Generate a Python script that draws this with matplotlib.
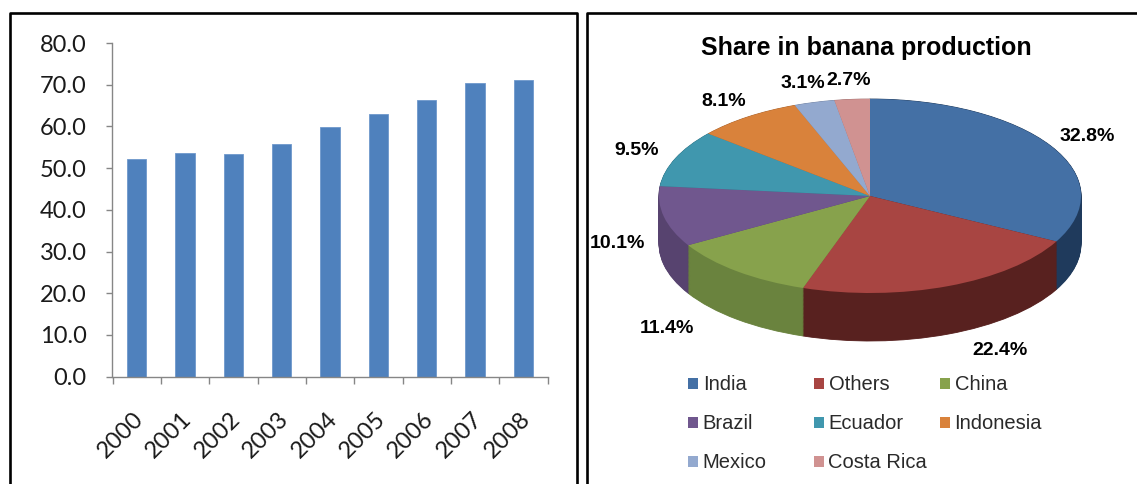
import numpy as np
import matplotlib
matplotlib.use('Agg')
import matplotlib.pyplot as plt
from matplotlib.lines import Line2D
from matplotlib.transforms import ScaledTranslation

# banana production (left) and share by country (right)
years = ['2000', '2001', '2002', '2003', '2004', '2005', '2006', '2007', '2008']
production = [52.1, 53.7, 53.3, 55.9, 59.9, 63.0, 66.4, 70.4, 71.1]

countries = ['India', 'Others', 'China', 'Brazil', 'Ecuador', 'Indonesia', 'Mexico', 'Costa Rica']
shares = [32.8, 22.4, 11.4, 10.1, 9.5, 8.1, 3.1, 2.7]

top_colors = ['#4470A5', '#A84542', '#87A24C', '#70578E', '#4097AE', '#D9823B', '#93A9CF', '#D09291']
side_colors = ['#1f3a5c', '#58211f', '#6a833e', '#57436f', '#2f7385', '#a8622c', '#6f80a0', '#a06f6e']

W, H = 1137, 484


def fig_rect(x0, y0, x1, y1):
    # pixel box (top-left origin) -> figure fraction
    return [x0 / W, 1 - y1 / H, (x1 - x0) / W, (y1 - y0) / H]


fig = plt.figure(figsize=(W / 100, H / 100), dpi=100)

# panel borders
for xs, ys in [([9.5, 9.5, 577, 577], [490, 12.5, 12.5, 490]),
               ([587, 587, 1140], [490, 12.5, 12.5])]:
    fig.add_artist(Line2D([x / W for x in xs], [1 - y / H for y in ys],
                          transform=fig.transFigure, color='black', lw=1.9))

# ---- bar chart ----
ax = fig.add_axes(fig_rect(112.5, 43, 547.7, 376.7))
x = np.arange(len(years))
ax.bar(x, production, width=0.4, color='#4F81BD', edgecolor='#6f98cc', linewidth=0.6, zorder=2)
ax.set_xlim(-0.5, len(years) - 0.5)
ax.set_ylim(0, 80)
ax.set_yticks(np.arange(0, 81, 10))
ax.set_yticklabels([f'{v:.1f}' for v in np.arange(0, 81, 10)])
ax.set_xticks(x)
ax.set_xticklabels([])
ax.set_xticks(np.arange(-0.5, len(years), 1), minor=True)
ax.tick_params(axis='x', which='major', length=0)
ax.tick_params(axis='x', which='minor', length=5, width=1, color='#868686', direction='out')
ax.tick_params(axis='y', length=4.5, width=1, color='#868686', direction='out', pad=14,
               labelsize=17, labelcolor='#1a1a1a')
for lab in ax.get_yticklabels():
    lab.set_fontfamily('Lato')
for s in ['top', 'right']:
    ax.spines[s].set_visible(False)
for s in ['left', 'bottom']:
    ax.spines[s].set_color('#868686')
    ax.spines[s].set_linewidth(1)

shift = ScaledTranslation(2.5 / 72, -28 / 72, fig.dpi_scale_trans)
for i, yr in enumerate(years):
    ax.text(i, 0, yr, transform=ax.get_xaxis_transform() + shift, rotation=45,
            rotation_mode='anchor', ha='right', va='center', fontsize=17,
            family='Lato', color='#1a1a1a')

# ---- 3D-looking pie ----
RX, RY = 211, 97
CX, CY = 870, 196
depth = 48 / RY
xl, yl = (-1.3, 1.3), (-1.9, 1.4)
pax = fig.add_axes(fig_rect(CX + xl[0] * RX, CY - yl[1] * RY, CX + xl[1] * RX, CY - yl[0] * RY))

for d in np.linspace(depth, 0, 60):
    pax.pie(shares, colors=side_colors, startangle=90, counterclock=False,
            center=(0, -d), radius=1, wedgeprops=dict(linewidth=0.6))
for w in pax.patches:
    w.set_edgecolor(w.get_facecolor())
wedges, _ = pax.pie(shares, colors=top_colors, startangle=90, counterclock=False,
                    center=(0, 0), radius=1, wedgeprops=dict(linewidth=0))
pax.set_aspect('auto')
pax.set_xlim(*xl)
pax.set_ylim(*yl)
pax.axis('off')

# data labels: outside the rim, front ones pushed out past the side wall
fracs = np.array(shares) / sum(shares)
mids = np.cumsum(fracs) - fracs / 2
theta = np.deg2rad(90 - 360 * mids)
for v, t in zip(shares, theta):
    front = max(0.0, -np.sin(t))
    lx = 1.2 * np.cos(t) * (1 + 0.45 * front ** 2)
    ly = 1.2 * np.sin(t) - depth * np.sqrt(front)
    pax.text(lx, ly, f'{v:.1f}%', ha='center', va='center', fontsize=14,
             fontweight='bold', family='Liberation Sans', color='black')

fig.text(866.7 / W, 1 - 48 / H, 'Share in banana production', ha='center', va='center',
         fontsize=18, fontweight='bold', family='Liberation Sans')

# legend: three fixed-width columns, filled row by row
ncol = 3
col_x = [688.3, 814, 940]
for c in range(ncol):
    idx = list(range(c, len(countries), ncol))
    leg = fig.legend([wedges[i] for i in idx], [countries[i] for i in idx],
                     loc='upper left', bbox_to_anchor=(col_x[c] / W, 1 - 375.5 / H),
                     bbox_transform=fig.transFigure, frameon=False, borderpad=0,
                     borderaxespad=0, handlelength=0.5, handleheight=0.45,
                     handletextpad=0.22, labelspacing=0.99,
                     prop={'family': 'Liberation Sans', 'size': 14.5})
    for t in leg.get_texts():
        t.set_color('#2a2a2a')

fig.savefig('out.png', dpi=100)
